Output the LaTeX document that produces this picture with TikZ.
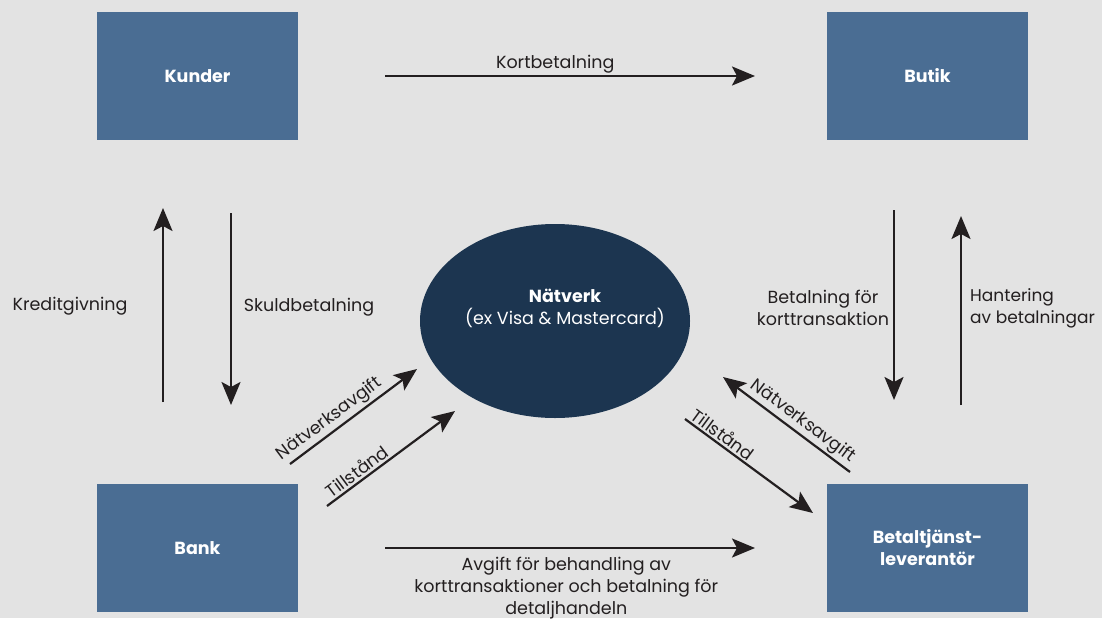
\documentclass[tikz,border=0pt]{standalone}
\usepackage{fontspec}
\setmainfont{Poppins}
\usetikzlibrary{arrows.meta,shapes.geometric}
\definecolor{bg}{HTML}{E3E3E3}
\definecolor{boxc}{HTML}{4A6D93}
\definecolor{net}{HTML}{1C3550}
\definecolor{ink}{HTML}{231F20}
\begin{document}
\begin{tikzpicture}[x=1pt,y=-1pt,
  box/.style={fill=boxc, minimum width=201pt, minimum height=128pt, inner sep=0pt,
    text=white, font=\fontsize{17.5}{22}\selectfont\bfseries, align=center},
  arr/.style={draw=ink, line width=2.2pt, -{Stealth[length=23pt,width=19pt,inset=5pt]}},
  rarr/.style={draw=ink, line width=2.2pt, {Stealth[length=23pt,width=19pt,inset=5pt]}-},
  lbl/.style={text=ink, font=\fontsize{17.5}{22}\selectfont, inner sep=2pt}]
\fill[bg] (0,0) rectangle (1102,618);
\useasboundingbox (0,0) rectangle (1102,618);

\node[box] (kunder) at (197.5,76) {Kunder};
\node[box] (butik) at (927.5,76) {Butik};
\node[box] (bank) at (197.5,548) {Bank};
\node[box] (lev) at (927.5,548) {Betaltjänst-\\leverantör};
\node[ellipse, fill=net, minimum width=270pt, minimum height=194pt, inner sep=0pt] (natverk) at (555,321) {};
\node[text=white, align=center, font=\fontsize{17.5}{22}\selectfont] (nattext) at (565,308)
  {\textbf{Nätverk}\\(ex Visa \& Mastercard)};

% endpoints
\coordinate (k1) at (385,76);   \coordinate (k2) at (755,76);
\coordinate (b1) at (385,548);  \coordinate (b2) at (755,548);
\coordinate (kr1) at (163,402); \coordinate (kr2) at (163,208);
\coordinate (sk1) at (231,213); \coordinate (sk2) at (231,405);
\coordinate (bf1) at (894,210); \coordinate (bf2) at (894,400);
\coordinate (ha1) at (961,405); \coordinate (ha2) at (961,216);
\coordinate (na1) at (290,464); \coordinate (na2) at (417,369);
\coordinate (ti1) at (327,506); \coordinate (ti2) at (455,411);
\coordinate (nb1) at (723,377); \coordinate (nb2) at (850,472);
\coordinate (tb1) at (685,419); \coordinate (tb2) at (813,513);

\draw[arr] (k1) -- node[lbl, above, pos=0.46] (lk) {Kortbetalning} (k2);
\draw[arr] (b1) -- node[lbl, below, align=center, pos=0.49, yshift=-6pt] (lb)
  {Avgift för behandling av\\korttransaktioner och betalning för\\detaljhandeln} (b2);
\draw[arr] (kr1) -- (kr2);
\draw[arr] (sk1) -- (sk2);
\draw[arr] (bf1) -- (bf2);
\draw[arr] (ha1) -- (ha2);
\node[lbl] (lkr) at (70,306) {Kreditgivning};
\node[lbl] (lsk) at (309,307) {Skuldbetalning};
\node[lbl, align=center] (lbf) at (823,308) {Betalning för\\korttransaktion};
\node[lbl, align=left, anchor=west, font=\fontsize{17}{22}\selectfont] (lha) at (968,308) {Hantering\\av betalningar};

\draw[arr] (na1) -- node[lbl, above, sloped, pos=0.37] (lna) {Nätverksavgift} (na2);
\draw[arr] (ti1) -- node[lbl, above, sloped, pos=0.28] (lti) {Tillstånd} (ti2);
\draw[rarr] (nb1) -- node[lbl, above, sloped, pos=0.57] (lnb) {Nätverksavgift} (nb2);
\draw[arr] (tb1) -- node[lbl, above, sloped, pos=0.25] (ltb) {Tillstånd} (tb2);
\end{tikzpicture}
\end{document}
